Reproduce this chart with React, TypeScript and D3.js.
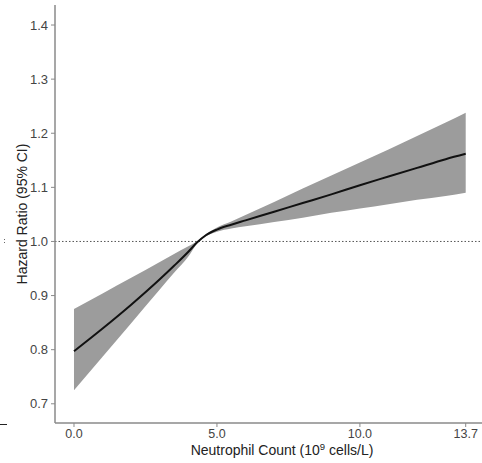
import React from "react";
import { scaleLinear, line, area, curveMonotoneX } from "d3";

// restricted cubic spline estimate
const neutrophil = [0, 1, 2, 3, 3.5, 4, 4.3, 4.6, 5, 5.5, 6, 7, 8, 9, 10, 11, 12, 13, 13.7];
const hazard = [0.797, 0.839, 0.883, 0.93, 0.955, 0.981, 0.998, 1.011, 1.022, 1.031, 1.039, 1.055, 1.071, 1.087, 1.104, 1.12, 1.136, 1.152, 1.162];
const upper = [0.875, 0.904, 0.933, 0.962, 0.977, 0.991, 1.0, 1.013, 1.026, 1.037, 1.049, 1.073, 1.098, 1.122, 1.146, 1.17, 1.195, 1.22, 1.238];
const lower = [0.725, 0.787, 0.849, 0.911, 0.942, 0.972, 0.996, 1.009, 1.018, 1.024, 1.028, 1.036, 1.044, 1.053, 1.061, 1.069, 1.077, 1.084, 1.09];

const xTicks = [0, 5, 10, 13.7];
const yTicks = [0.7, 0.8, 0.9, 1.0, 1.1, 1.2, 1.3, 1.4];

const W = 482;
const H = 463;
const left = 55;
const top = 5;
const bottom = 423;

const font = "'Liberation Sans', Arial, sans-serif";

export default function App() {
  const x = scaleLinear().domain([-0.664, 14.27]).range([left, W]);
  const y = scaleLinear().domain([0.6645, 1.437]).range([bottom, top]);

  const rows = neutrophil.map((n, i) => ({ n, hr: hazard[i], lo: lower[i], hi: upper[i] }));

  const band = area<any>()
    .x((d) => x(d.n))
    .y0((d) => y(d.lo))
    .y1((d) => y(d.hi))
    .curve(curveMonotoneX);

  const fit = line<any>()
    .x((d) => x(d.n))
    .y((d) => y(d.hr))
    .curve(curveMonotoneX);

  return (
    <svg
      width={W}
      height={H}
      style={{ position: "absolute", left: 0, top: 0, background: "#fff" }}
      fontFamily={font}
    >
      <path d={band(rows) || ""} fill="#9c9c9c" stroke="none" />
      <line
        x1={left}
        x2={W}
        y1={y(1)}
        y2={y(1)}
        stroke="#555"
        strokeWidth={1}
        strokeDasharray="1.5,2"
      />
      <path d={fit(rows) || ""} fill="none" stroke="#111" strokeWidth={2} />

      {/* axes */}
      <line x1={left} x2={left} y1={top} y2={bottom} stroke="#8a8a8a" strokeWidth={1.5} />
      <line x1={left} x2={W} y1={bottom} y2={bottom} stroke="#8a8a8a" strokeWidth={1.5} />

      {yTicks.map((t) => (
        <g key={t} transform={`translate(${left},${y(t)})`}>
          <line x1={-4} x2={0} stroke="#8a8a8a" />
          <text x={-7} dy="0.35em" textAnchor="end" fontSize={13} fill="#444">
            {t.toFixed(1)}
          </text>
        </g>
      ))}
      {xTicks.map((t) => (
        <g key={t} transform={`translate(${x(t)},${bottom})`}>
          <line y1={0} y2={4} stroke="#8a8a8a" />
          <text y={14.5} textAnchor="middle" fontSize={12.5} fill="#444">
            {t.toFixed(1)}
          </text>
        </g>
      ))}

      <text
        transform={`translate(27,214) rotate(-90)`}
        textAnchor="middle"
        fontSize={14}
        fill="#222"
      >
        Hazard Ratio (95% CI)
      </text>
      <text x={282} y={455} textAnchor="middle" fontSize={14} fill="#222">
        Neutrophil Count (10
        <tspan fontSize={9.5} dy={-5}>9</tspan>
        <tspan dy={5}> cells/L)</tspan>
      </text>

      {/* stray marks at the left edge of the source image */}
      <line x1={4.5} x2={4.5} y1={239} y2={244} stroke="#666" strokeWidth={1} strokeDasharray="1,2" />
      <line x1={0} x2={7} y1={424.5} y2={424.5} stroke="#222" strokeWidth={1} />
    </svg>
  );
}
